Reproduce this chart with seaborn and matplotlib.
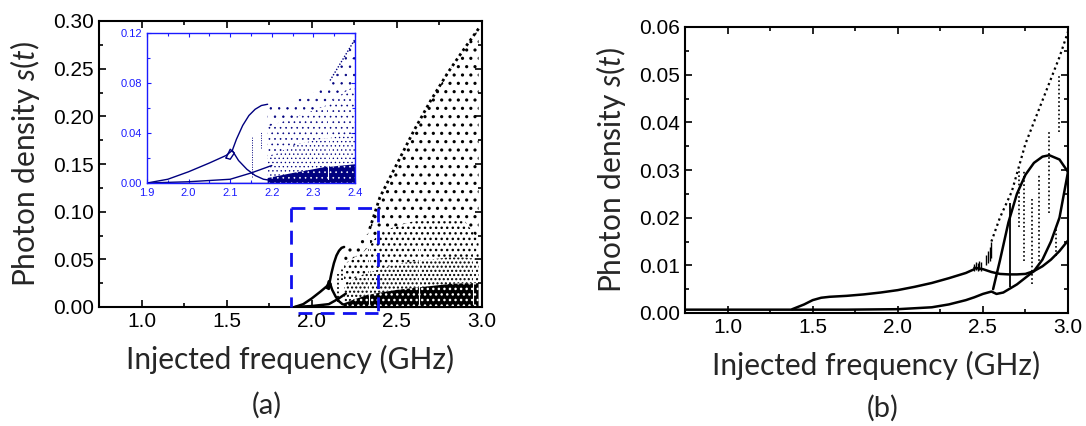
import numpy as np
import pandas as pd
import matplotlib
matplotlib.use("Agg")
import matplotlib.pyplot as plt
import seaborn as sns

sns.set_theme(style="ticks")
plt.rcParams["font.family"] = ["Liberation Sans", "DejaVu Sans"]
plt.rcParams["mathtext.fontset"] = "custom"
plt.rcParams["mathtext.it"] = "Lato:italic"
plt.rcParams["mathtext.rm"] = "Lato"
plt.rcParams["hatch.linewidth"] = 1.0

# ---------------- panel (a) data ----------------
base_x = [0.75, 1.5, 1.9, 2.2]
base_y = [0.0, 0.0, 0.0, 0.0]
p1_x = [1.90, 1.95, 2.00, 2.05, 2.09, 2.105]
p1_y = [0.000, 0.003, 0.009, 0.016, 0.022, 0.026]
up_x = [2.105, 2.115, 2.13, 2.145, 2.16, 2.175, 2.19]
up_y = [0.026, 0.035, 0.046, 0.054, 0.059, 0.062, 0.063]
lo_x = [2.105, 2.12, 2.14, 2.16, 2.18, 2.20]
lo_y = [0.026, 0.018, 0.011, 0.006, 0.003, 0.002]
sec_x = [1.90, 2.00, 2.10, 2.15, 2.20]
sec_y = [0.000, 0.001, 0.003, 0.008, 0.014]
loop_x = [2.09, 2.10, 2.11, 2.10, 2.09]
loop_y = [0.020, 0.019, 0.024, 0.027, 0.020]
trans_x = [2.152, 2.175]
trans_lo = [0.005, 0.028]
trans_hi = [0.037, 0.042]

chaos_x = [2.19, 2.25, 2.30, 2.33, 2.34, 2.40, 2.50, 2.60, 2.70, 2.80, 2.90, 2.98]
chaos_top = [0.062, 0.065, 0.072, 0.077, 0.082, 0.115, 0.150, 0.185, 0.217, 0.246, 0.272, 0.292]
chaos_mid = [0.045, 0.052, 0.058, 0.062, 0.065, 0.078, 0.085, 0.090, 0.090, 0.090, 0.090, 0.070]
chaos_dense = [0.020, 0.030, 0.034, 0.036, 0.036, 0.040, 0.045, 0.048, 0.050, 0.052, 0.052, 0.050]
chaos_solid = [0.004, 0.008, 0.011, 0.013, 0.013, 0.015, 0.018, 0.020, 0.022, 0.024, 0.025, 0.025]
edge_x = [2.34, 2.40, 2.50, 2.60, 2.70, 2.80, 2.90, 2.98]
edge_y = [0.082, 0.115, 0.150, 0.185, 0.217, 0.246, 0.272, 0.292]
window_x = [2.335, 2.63, 2.95]

# ---------------- panel (b) data ----------------
b_base_x = [0.75, 1.00, 1.38, 1.70, 2.00, 2.20, 2.30, 2.40, 2.45, 2.50, 2.55, 2.58, 2.62, 2.70, 2.80]
b_base_y = [0.0007, 0.0007, 0.0007, 0.0007, 0.0008, 0.0012, 0.0018, 0.0027, 0.0033, 0.0040, 0.0045, 0.0040, 0.0043, 0.0060, 0.0088]
b_up_x = [1.38, 1.45, 1.50, 1.55, 1.60, 1.70, 1.80, 1.90, 2.00, 2.10, 2.20, 2.30, 2.40, 2.45]
b_up_y = [0.0008, 0.0018, 0.0027, 0.0032, 0.0034, 0.0036, 0.0039, 0.0043, 0.0048, 0.0055, 0.0063, 0.0073, 0.0084, 0.0092]
b_flat_x = [2.45, 2.50, 2.55, 2.60, 2.65, 2.70, 2.75, 2.80, 2.85, 2.90, 2.95, 3.00]
b_flat_y = [0.0095, 0.0092, 0.0086, 0.0082, 0.0081, 0.0081, 0.0082, 0.0088, 0.0098, 0.0112, 0.0130, 0.0152]
b_arc_x = [2.56, 2.60, 2.65, 2.70, 2.75, 2.80, 2.85, 2.89, 2.95, 3.00]
b_arc_y = [0.0050, 0.0110, 0.0190, 0.0250, 0.0290, 0.0315, 0.0328, 0.0331, 0.0322, 0.0296]
b_top_x = [2.55, 2.60, 2.67, 2.75, 2.85, 2.95, 3.00]
b_top_y = [0.0150, 0.0200, 0.0255, 0.0355, 0.0446, 0.0537, 0.0590]
b_rise_x = [2.80, 2.85, 2.90, 2.95, 3.00]
b_rise_y = [0.0088, 0.0112, 0.0150, 0.0200, 0.0296]
b_vx = [2.71, 2.74, 2.79, 2.83, 2.89, 2.93, 2.95]
b_vlo = [0.0180, 0.0110, 0.0060, 0.0100, 0.0210, 0.0120, 0.0380]
b_vhi = [0.0300, 0.0300, 0.0240, 0.0290, 0.0380, 0.0180, 0.0500]
b_solid_vx = [2.66]
b_solid_vlo = [0.0055]
b_solid_vhi = [0.0230]
b_sx = [2.45, 2.46, 2.47, 2.48, 2.49, 2.52, 2.53, 2.54, 2.55]
b_slo = [0.0088, 0.0090, 0.0088, 0.0091, 0.0089, 0.0100, 0.0105, 0.0110, 0.0115]
b_shi = [0.0102, 0.0108, 0.0105, 0.0110, 0.0106, 0.0122, 0.0130, 0.0138, 0.0150]

# ---------------- figure ----------------
W, H = 1086, 426
fig = plt.figure(figsize=(W / 100, H / 100), dpi=100)
axA = fig.add_axes([99 / W, 1 - 307 / H, 383 / W, 286 / H])
axB = fig.add_axes([685 / W, 1 - 313 / H, 383 / W, 286 / H])
axI = fig.add_axes([147 / W, 1 - 183 / H, 208 / W, 150 / H])

LBL = dict(family=["Lato", "DejaVu Sans"], fontsize=21.5)


def style_axes(ax, color="black", lw=1.5, size=15, L=5, l=3):
    for s in ax.spines.values():
        s.set_visible(True)
        s.set_color(color)
        s.set_linewidth(lw)
    ax.tick_params(which="both", direction="in", top=True, right=True,
                   color=color, width=lw * 0.8, labelcolor=color, labelsize=size)
    ax.tick_params(which="major", length=L)
    ax.tick_params(which="minor", length=l)
    ax.grid(False)


def hatch_fill(ax, lo, hi, fc, ec, hatch, hlw):
    plt.rcParams["hatch.linewidth"] = hlw
    coll = ax.fill_between(chaos_x, lo, hi, facecolor=fc, edgecolor=ec, hatch=hatch, linewidth=0)
    try:
        coll.set_hatch_linewidth(hlw)
    except Exception:
        pass
    return coll


def draw_chaos(ax, color, scale, edge_lw):
    hatch_fill(ax, chaos_mid, chaos_top, "none", color, "..", 1.1 * scale)
    hatch_fill(ax, chaos_dense, chaos_mid, "none", color, "...", 1.0 * scale)
    hatch_fill(ax, chaos_solid, chaos_dense, "none", color, "....", 1.0 * scale)
    hatch_fill(ax, 0, chaos_solid, color, "white", "...", 1.0 * scale)
    sns.lineplot(x=edge_x, y=edge_y, ax=ax, color=color, lw=edge_lw, ls=(0, (1, 1.2)),
                 sort=False, estimator=None)
    for wx in window_x:
        ax.plot([wx, wx], [0.003, 0.07], color="white", lw=0.8)


def draw_branches(ax, color, lw):
    for xs, ys in [(base_x, base_y), (p1_x, p1_y), (up_x, up_y), (lo_x, lo_y), (sec_x, sec_y),
                   (loop_x, loop_y)]:
        sns.lineplot(x=xs, y=ys, ax=ax, color=color, lw=lw, sort=False, estimator=None)
    ax.vlines(trans_x, trans_lo, trans_hi, color=color, lw=lw * 0.7, linestyles=(0, (1, 1.5)))


# panel (a)
draw_chaos(axA, "black", 1.0, 2.0)
draw_branches(axA, "black", 1.8)
axA.set_xlim(0.75, 3.0)
axA.set_ylim(0, 0.30)
axA.set_xticks([1.0, 1.5, 2.0, 2.5, 3.0])
axA.set_xticks(np.arange(0.75, 3.01, 0.25), minor=True)
axA.set_yticks(np.arange(0, 0.301, 0.05))
axA.set_yticks(np.arange(0, 0.301, 0.025), minor=True)
axA.yaxis.set_major_formatter(matplotlib.ticker.FormatStrFormatter("%.2f"))
axA.xaxis.set_major_formatter(matplotlib.ticker.FormatStrFormatter("%.1f"))
style_axes(axA)
axA.set_xlabel("Injected frequency (GHz)", labelpad=10, **LBL)
axA.set_ylabel("Photon density $s(t)$", labelpad=8, **LBL)

# dashed zoom box
dash = dict(color="#1010ee", lw=2.0, ls=(0, (5, 3)), clip_on=False, zorder=5)
axA.plot([1.875, 2.39], [0.104, 0.104], **dash)
axA.plot([1.875, 1.875], [0.104, 0.0], **dash)
axA.plot([2.39, 2.39], [0.104, -0.0063], **dash)
axA.plot([1.92, 2.39], [-0.0063, -0.0063], **dash)

# inset
axI.set_facecolor("white")
draw_chaos(axI, "#00007f", 0.45, 1.0)
draw_branches(axI, "#00007f", 1.0)
axI.set_xlim(1.9, 2.4)
axI.set_ylim(0, 0.12)
axI.set_xticks(np.arange(1.9, 2.41, 0.1))
axI.set_xticks(np.arange(1.9, 2.41, 0.05), minor=True)
axI.set_yticks(np.arange(0, 0.121, 0.04))
axI.set_yticks(np.arange(0, 0.121, 0.02), minor=True)
axI.yaxis.set_major_formatter(matplotlib.ticker.FormatStrFormatter("%.2f"))
axI.xaxis.set_major_formatter(matplotlib.ticker.FormatStrFormatter("%.1f"))
style_axes(axI, color="#1a1aff", lw=1.0, size=8, L=3, l=2)
axI.set_xlabel("")
axI.set_ylabel("")

# panel (b)
for xs, ys in [(b_base_x, b_base_y), (b_up_x, b_up_y), (b_flat_x, b_flat_y), (b_arc_x, b_arc_y),
               (b_rise_x, b_rise_y)]:
    sns.lineplot(x=xs, y=ys, ax=axB, color="black", lw=1.8, sort=False, estimator=None)
sns.lineplot(x=b_top_x, y=b_top_y, ax=axB, color="black", lw=1.6, ls=(0, (1, 1.5)),
             sort=False, estimator=None)
axB.vlines(b_vx, b_vlo, b_vhi, color="black", lw=1.2, linestyles=(0, (1, 1.5)))
axB.vlines(b_solid_vx, b_solid_vlo, b_solid_vhi, color="black", lw=1.3)
axB.vlines(b_sx, b_slo, b_shi, color="black", lw=1.0)
axB.set_xlim(0.75, 3.0)
axB.set_ylim(0, 0.06)
axB.set_xticks([1.0, 1.5, 2.0, 2.5, 3.0])
axB.set_xticks(np.arange(0.75, 3.01, 0.25), minor=True)
axB.set_yticks(np.arange(0, 0.061, 0.01))
axB.set_yticks(np.arange(0, 0.061, 0.005), minor=True)
axB.yaxis.set_major_formatter(matplotlib.ticker.FormatStrFormatter("%.2f"))
axB.xaxis.set_major_formatter(matplotlib.ticker.FormatStrFormatter("%.1f"))
style_axes(axB)
axB.set_xlabel("Injected frequency (GHz)", labelpad=10, **LBL)
axB.set_ylabel("Photon density $s(t)$", labelpad=8, **LBL)

fig.text(267 / W, 1 - 405 / H, "(a)", ha="center", va="center", family=["Lato", "DejaVu Sans"], fontsize=21)
fig.text(883 / W, 1 - 408 / H, "(b)", ha="center", va="center", family=["Lato", "DejaVu Sans"], fontsize=21)

fig.savefig("out.png", dpi=100)
